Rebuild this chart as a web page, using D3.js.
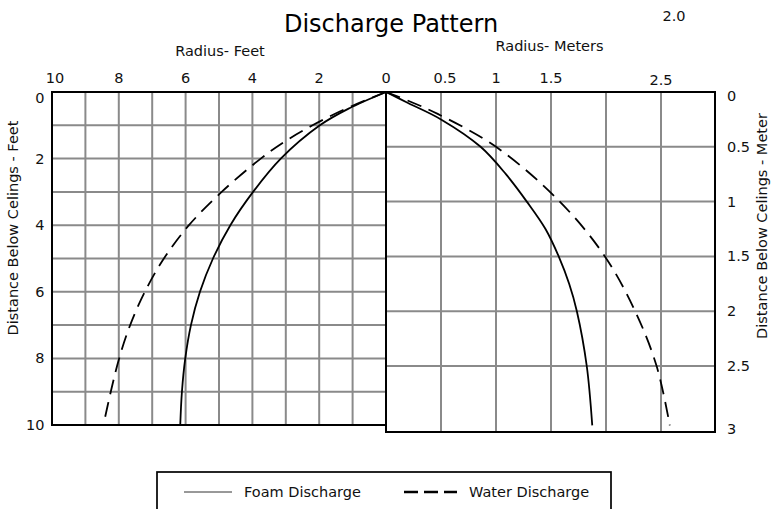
<!DOCTYPE html>
<html lang="en">
<head>
  <meta charset="UTF-8">
  <title>Discharge Pattern</title>
  <script src="https://d3js.org/d3.v7.min.js"></script>
  <style>
    body {
      margin: 0;
      background-color: #fff;
    }

    svg text {
      font-family: "DejaVu Sans", Verdana, sans-serif;
      fill: #111;
    }
  </style>
</head>
<body>

<svg width="771" height="509"></svg>

<script>
  // Left half: feet, right half: meters (radius from the nozzle, depth below ceiling)
  const feetTicks = [0, 2, 4, 6, 8, 10];
  const meterTicks = [0.5, 1, 1.5, 2.5];
  const meterDepthTicks = [0, 0.5, 1, 1.5, 2, 2.5, 3];

  // Foam, feet side
  const foamFeetDepth = [0, 0.5, 1, 2, 3, 4, 5, 6, 7, 8, 9, 10];
  const foamFeetRadius = [0, 1.12, 1.98, 3.15, 3.98, 4.66, 5.18, 5.57, 5.84, 6.01, 6.11, 6.16];

  // Water, feet side
  const waterFeetDepth = [0, 0.5, 1, 1.5, 2, 3, 4, 5, 6, 7, 8, 9, 10];
  const waterFeetRadius = [0, 1.2, 2.2, 3.05, 3.75, 4.92, 5.9, 6.65, 7.22, 7.66, 7.99, 8.24, 8.46];

  // Foam, meter side
  const foamMeterDepth = [0, 0.1, 0.25, 0.5, 0.75, 1.0, 1.25, 1.5, 1.75, 2.0, 2.5, 2.95];
  const foamMeterRadius = [0, 0.2, 0.5, 0.86, 1.09, 1.28, 1.45, 1.57, 1.665, 1.735, 1.825, 1.875];

  // Water, meter side
  const waterMeterDepth = [0, 0.1, 0.2, 0.5, 1.0, 1.5, 2.0, 2.5, 2.95];
  const waterMeterRadius = [0, 0.25, 0.47, 1.0, 1.58, 1.99, 2.265, 2.46, 2.58];

  const svg = d3.select("svg");

  const ftX = d3.scaleLinear().domain([0, 10]).range([386, 52]);
  const ftY = d3.scaleLinear().domain([0, 10]).range([92, 425]);
  const mX = d3.scaleLinear().domain([0, 3]).range([386, 716]);
  // the last meter row is drawn taller in the original
  const mY = d3.scaleLinear().domain([0, 2.5, 3]).range([92, 366, 432]);

  const gridColor = "#8a8a8a";

  // grid - feet side
  const grid = svg.append("g");
  grid.selectAll(".fv")
    .data(d3.range(1, 10))
    .enter().append("line")
    .attr("x1", d => ftX(d)).attr("x2", d => ftX(d))
    .attr("y1", ftY(0)).attr("y2", ftY(10))
    .attr("stroke", gridColor).attr("stroke-width", 2);
  grid.selectAll(".fh")
    .data(d3.range(1, 10))
    .enter().append("line")
    .attr("x1", ftX(10)).attr("x2", ftX(0))
    .attr("y1", d => ftY(d)).attr("y2", d => ftY(d))
    .attr("stroke", gridColor).attr("stroke-width", 2);

  // grid - meter side
  grid.selectAll(".mv")
    .data([0.5, 1, 1.5, 2, 2.5])
    .enter().append("line")
    .attr("x1", d => mX(d)).attr("x2", d => mX(d))
    .attr("y1", mY(0)).attr("y2", mY(3))
    .attr("stroke", gridColor).attr("stroke-width", 2);
  grid.selectAll(".mh")
    .data([0.5, 1, 1.5, 2, 2.5])
    .enter().append("line")
    .attr("x1", mX(0)).attr("x2", mX(3) - 1)
    .attr("y1", d => mY(d)).attr("y2", d => mY(d))
    .attr("stroke", gridColor).attr("stroke-width", 2);

  // frame
  svg.append("path")
    .attr("fill", "none")
    .attr("stroke", "#000")
    .attr("stroke-width", 2)
    .attr("d", `M${ftX(0)},${ftY(10)} H${ftX(10)} V${ftY(0)} H${mX(3) - 1} V${mY(3)} H${mX(0)} V${ftY(0)}`);

  // curves
  const zip = (r, d) => r.map((v, i) => [v, d[i]]);
  const smooth = d3.curveCatmullRom.alpha(0.5);
  const feetLine = d3.line().x(d => ftX(d[0])).y(d => ftY(d[1])).curve(smooth);
  const meterLine = d3.line().x(d => mX(d[0])).y(d => mY(d[1])).curve(smooth);

  const curves = svg.append("g").attr("fill", "none").attr("stroke", "#000").attr("stroke-width", 1.8);
  curves.append("path").attr("d", feetLine(zip(foamFeetRadius, foamFeetDepth)));
  curves.append("path").attr("d", meterLine(zip(foamMeterRadius, foamMeterDepth)));
  curves.append("path").attr("d", feetLine(zip(waterFeetRadius, waterFeetDepth)))
    .attr("stroke-dasharray", "15,8");
  curves.append("path").attr("d", meterLine(zip(waterMeterRadius, waterMeterDepth)))
    .attr("stroke-dasharray", "15,8");

  // top tick labels
  svg.append("g").selectAll("text")
    .data(feetTicks)
    .enter().append("text")
    .attr("x", d => ftX(d) + (d === 10 ? 3 : 0))
    .attr("y", 83)
    .attr("text-anchor", "middle")
    .style("font-size", "14.5px")
    .text(d => d);

  svg.append("g").selectAll("text")
    .data(meterTicks)
    .enter().append("text")
    .attr("x", d => mX(d) + (d === 0.5 ? 4 : 0))
    .attr("y", d => d === 2.5 ? 85 : 83)
    .attr("text-anchor", "middle")
    .style("font-size", "14.5px")
    .text(d => d);

  // stray label near the title in the original
  svg.append("text")
    .attr("x", 674).attr("y", 21)
    .attr("text-anchor", "middle")
    .style("font-size", "14.5px")
    .text("2.0");

  // side tick labels
  svg.append("g").selectAll("text")
    .data(feetTicks)
    .enter().append("text")
    .attr("x", 44.5)
    .attr("y", d => d === 0 ? ftY(d) + 6 : ftY(d))
    .attr("dy", "0.35em")
    .attr("text-anchor", "end")
    .style("font-size", "14.5px")
    .text(d => d);

  svg.append("g").selectAll("text")
    .data(meterDepthTicks)
    .enter().append("text")
    .attr("x", 727)
    .attr("y", d => d === 0 ? mY(d) + 4 : (d === 3 ? mY(d) - 3 : mY(d)))
    .attr("dy", "0.35em")
    .attr("text-anchor", "start")
    .style("font-size", "14.5px")
    .text(d => d);

  // titles
  svg.append("text")
    .attr("x", 391).attr("y", 32)
    .attr("text-anchor", "middle")
    .style("font-size", "24px")
    .style("fill", "#000")
    .text("Discharge Pattern");

  svg.append("text")
    .attr("x", 220).attr("y", 55.5)
    .attr("text-anchor", "middle")
    .style("font-size", "14.5px")
    .text("Radius- Feet");

  svg.append("text")
    .attr("x", 549.5).attr("y", 50.5)
    .attr("text-anchor", "middle")
    .style("font-size", "14.5px")
    .text("Radius- Meters");

  svg.append("text")
    .attr("transform", "translate(18,228) rotate(-90)")
    .attr("text-anchor", "middle")
    .style("font-size", "14.5px")
    .text("Distance Below Celings - Feet");

  svg.append("text")
    .attr("transform", "translate(767,226) rotate(-90)")
    .attr("text-anchor", "middle")
    .style("font-size", "14.5px")
    .text("Distance Below Celings - Meter");

  // legend
  const legend = svg.append("g");
  legend.append("rect")
    .attr("x", 157).attr("y", 472)
    .attr("width", 454).attr("height", 60)
    .attr("fill", "none")
    .attr("stroke", "#000")
    .attr("stroke-width", 1.7);

  legend.append("line")
    .attr("x1", 184).attr("x2", 232)
    .attr("y1", 492).attr("y2", 492)
    .attr("stroke", "#333").attr("stroke-width", 1);
  legend.append("text")
    .attr("x", 244).attr("y", 497)
    .style("font-size", "14.5px")
    .text("Foam Discharge");

  legend.append("line")
    .attr("x1", 404).attr("x2", 457)
    .attr("y1", 492).attr("y2", 492)
    .attr("stroke", "#000").attr("stroke-width", 2.3)
    .attr("stroke-dasharray", "14,6");
  legend.append("text")
    .attr("x", 469).attr("y", 497)
    .style("font-size", "14.5px")
    .text("Water Discharge");
</script>

</body>
</html>
